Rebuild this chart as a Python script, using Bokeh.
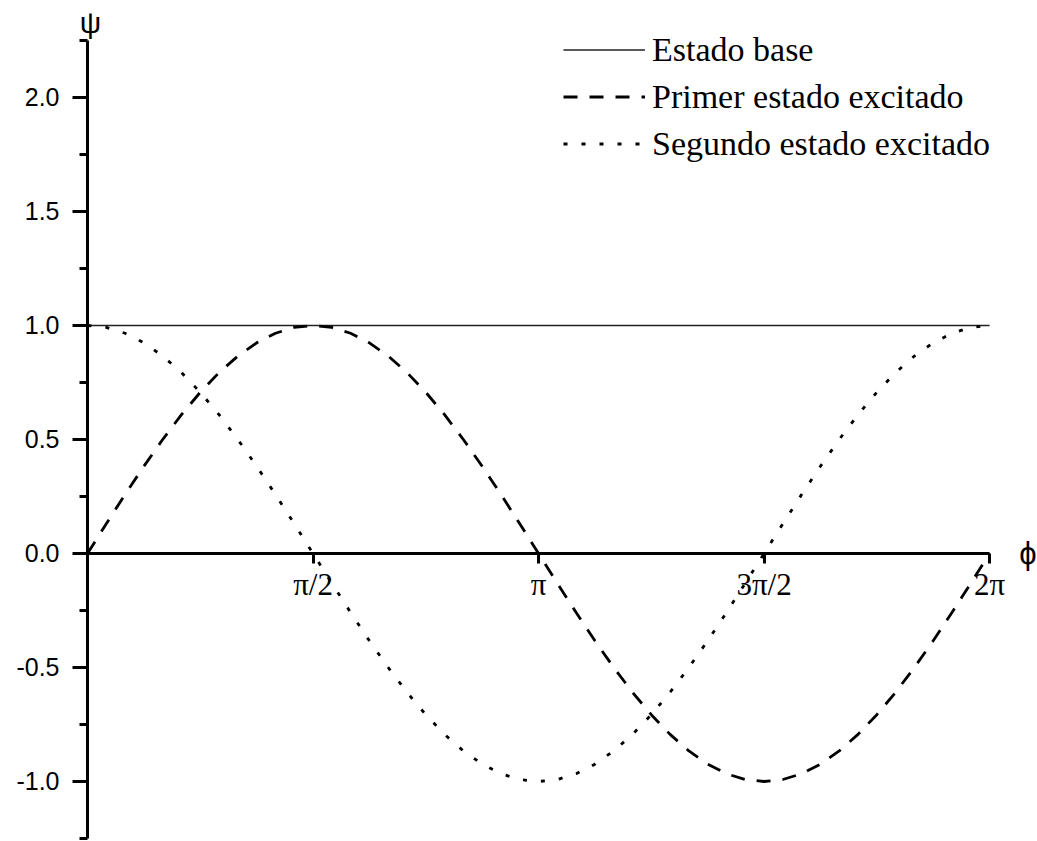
from bokeh.plotting import figure
from bokeh.models import (Range1d, LinearAxis, FixedTicker, NumeralTickFormatter,
                          Legend, LegendItem, Label)
from bokeh.embed import file_html
from bokeh.resources import INLINE

# Angle phi (radians), sampled every pi/24 over one full turn
phi = [0.0000, 0.1309, 0.2618, 0.3927, 0.5236, 0.6545, 0.7854, 0.9163,
       1.0472, 1.1781, 1.3090, 1.4399, 1.5708, 1.7017, 1.8326, 1.9635,
       2.0944, 2.2253, 2.3562, 2.4871, 2.6180, 2.7489, 2.8798, 3.0107,
       3.1416, 3.2725, 3.4034, 3.5343, 3.6652, 3.7961, 3.9270, 4.0579,
       4.1888, 4.3197, 4.4506, 4.5815, 4.7124, 4.8433, 4.9742, 5.1051,
       5.2360, 5.3669, 5.4978, 5.6287, 5.7596, 5.8905, 6.0214, 6.1523,
       6.2832]

# Ground state: constant wave function
phi_base = [0.0000, 6.2832]
psi_base = [1.0, 1.0]

# First excited state
psi_first = [0.0000, 0.1305, 0.2588, 0.3827, 0.5000, 0.6088, 0.7071, 0.7934,
             0.8660, 0.9239, 0.9659, 0.9914, 1.0000, 0.9914, 0.9659, 0.9239,
             0.8660, 0.7934, 0.7071, 0.6088, 0.5000, 0.3827, 0.2588, 0.1305,
             0.0000, -0.1305, -0.2588, -0.3827, -0.5000, -0.6088, -0.7071, -0.7934,
             -0.8660, -0.9239, -0.9659, -0.9914, -1.0000, -0.9914, -0.9659, -0.9239,
             -0.8660, -0.7934, -0.7071, -0.6088, -0.5000, -0.3827, -0.2588, -0.1305,
             0.0000]

# Second excited state
psi_second = [1.0000, 0.9914, 0.9659, 0.9239, 0.8660, 0.7934, 0.7071, 0.6088,
              0.5000, 0.3827, 0.2588, 0.1305, 0.0000, -0.1305, -0.2588, -0.3827,
              -0.5000, -0.6088, -0.7071, -0.7934, -0.8660, -0.9239, -0.9659, -0.9914,
              -1.0000, -0.9914, -0.9659, -0.9239, -0.8660, -0.7934, -0.7071, -0.6088,
              -0.5000, -0.3827, -0.2588, -0.1305, 0.0000, 0.1305, 0.2588, 0.3827,
              0.5000, 0.6088, 0.7071, 0.7934, 0.8660, 0.9239, 0.9659, 0.9914,
              1.0000]

# Axis ticks and labels
x_ticks = [1.5708, 3.1416, 4.7124, 6.2832]
x_tick_labels = ["π/2", "π", "3π/2", "2π"]
y_ticks = [-1.0, -0.5, 0.0, 0.5, 1.0, 1.5, 2.0]
y_minor_ticks = [-1.25, -0.75, -0.25, 0.25, 0.75, 1.25, 1.75, 2.25]

series_names = ["Estado base", "Primer estado excitado", "Segundo estado excitado"]

p = figure(width=1037, height=841, output_backend="svg", toolbar_location=None,
           x_range=Range1d(-0.606, 6.617), y_range=Range1d(-1.2632, 2.4254),
           x_axis_location=None, y_axis_location=None, min_border=0)
p.grid.grid_line_color = None
p.outline_line_color = None
p.background_fill_color = "white"
p.border_fill_color = "white"

# Horizontal axis crossing at psi = 0
xaxis = LinearAxis(fixed_location=0, bounds=(0, phi[-1]),
                   ticker=FixedTicker(ticks=x_ticks, minor_ticks=[]),
                   major_label_overrides=dict(zip(x_ticks, x_tick_labels)))
xaxis.axis_line_width = 3
xaxis.axis_line_color = "black"
xaxis.major_tick_line_width = 3
xaxis.major_tick_in = 0
xaxis.major_tick_out = 10
xaxis.minor_tick_line_color = None
xaxis.major_label_standoff = 4
xaxis.major_label_text_font = "Liberation Serif"
xaxis.major_label_text_font_size = "31px"
xaxis.major_label_text_color = "black"
p.add_layout(xaxis, "below")

# Vertical axis at phi = 0
yaxis = LinearAxis(fixed_location=0, bounds=(-1.25, 2.25),
                   ticker=FixedTicker(ticks=y_ticks, minor_ticks=y_minor_ticks),
                   formatter=NumeralTickFormatter(format="0.0"))
yaxis.axis_line_width = 3
yaxis.axis_line_color = "black"
yaxis.major_tick_line_width = 3
yaxis.major_tick_in = 0
yaxis.major_tick_out = 15
yaxis.minor_tick_line_width = 3
yaxis.minor_tick_line_color = "black"
yaxis.minor_tick_in = 0
yaxis.minor_tick_out = 8
yaxis.major_label_standoff = 13
yaxis.major_label_text_font = "Liberation Sans"
yaxis.major_label_text_font_size = "25px"
yaxis.major_label_text_color = "black"
p.add_layout(yaxis, "left")

r_base = p.line(phi_base, psi_base, line_color="#222222", line_width=1.6)
r_first = p.line(phi, psi_first, line_color="black", line_width=2.8,
                 line_dash="14 12")
r_second = p.line(phi, psi_second, line_color="black", line_width=2.8,
                  line_dash="4 14")

legend = Legend(items=[LegendItem(label=series_names[0], renderers=[r_base]),
                       LegendItem(label=series_names[1], renderers=[r_first]),
                       LegendItem(label=series_names[2], renderers=[r_second])],
                location=(563, 674), orientation="vertical",
                glyph_width=82, glyph_height=47, spacing=0, padding=0, margin=0,
                label_standoff=7, label_text_font="Liberation Serif",
                label_text_font_size="34px", label_text_color="black",
                border_line_color=None, background_fill_color=None)
p.add_layout(legend)

# Axis titles
p.add_layout(Label(x=0.02, y=2.329, text="ψ", text_align="center",
                   text_baseline="middle", text_font="Liberation Sans",
                   text_font_size="30px", text_color="black"))
p.add_layout(Label(x=6.55, y=0.0, text="ϕ", text_align="center",
                   text_baseline="middle", text_font="Liberation Sans",
                   text_font_size="31px", text_color="black"))

open("out.html", "w").write(file_html(p, INLINE))
